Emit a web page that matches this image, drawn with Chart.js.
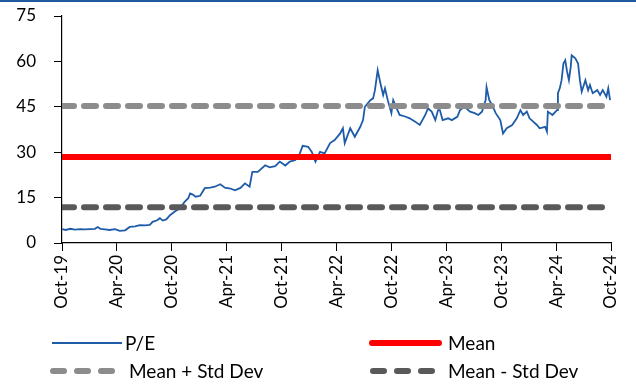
<!DOCTYPE html>
<html>
<head>
<meta charset="utf-8">
<script src="https://cdn.jsdelivr.net/npm/chart.js@4.4.1/dist/chart.umd.min.js"></script>
<style>
  html, body { margin: 0; padding: 0; background: #fff; }
  #wrap { position: relative; width: 636px; height: 385px; overflow: hidden; }
  #topbar { position: absolute; left: 0; top: 0; width: 636px; height: 2px; background: #1f5aa0; }
  canvas { position: absolute; left: 0; top: 0; }
  .leg { position: absolute; font-family: Lato, "Open Sans", sans-serif; font-size: 19px; color: #000; line-height: 20px; white-space: nowrap; }
  .sw { position: absolute; }
</style>
</head>
<body>
<div id="wrap">
  <canvas id="c" width="636" height="385"></canvas>
  <div id="topbar"></div>
  <svg class="sw" style="left:50px;top:333px" width="74" height="20"><line x1="2" y1="10" x2="72" y2="10" stroke="#1f5ca8" stroke-width="2"/></svg>
  <div class="leg" style="left:125px;top:333px">P/E</div>
  <svg class="sw" style="left:366px;top:333px" width="80" height="20"><line x1="6" y1="10" x2="73" y2="10" stroke="#ff0000" stroke-width="6" stroke-linecap="round"/></svg>
  <div class="leg" style="left:448px;top:333px">Mean</div>
  <svg class="sw" style="left:46px;top:361px" width="80" height="20"><line x1="7" y1="10" x2="66" y2="10" stroke="#8c8c8c" stroke-width="6" stroke-linecap="round" stroke-dasharray="11 13"/></svg>
  <div class="leg" style="left:129px;top:361px">Mean + Std Dev</div>
  <svg class="sw" style="left:366px;top:361px" width="80" height="20"><line x1="7" y1="10" x2="66" y2="10" stroke="#595959" stroke-width="6" stroke-linecap="round" stroke-dasharray="11 13"/></svg>
  <div class="leg" style="left:448px;top:361px">Mean - Std Dev</div>
</div>
<script>
// ---- data ----
const tickLabels = ["Oct-19","Apr-20","Oct-20","Apr-21","Oct-21","Apr-22","Oct-22","Apr-23","Oct-23","Apr-24","Oct-24"];
// months since Oct-2019
const months = [0.0,0.4,0.9,1.4,2.0,2.5,3.1,3.6,3.9,4.2,4.7,5.2,5.8,6.3,6.9,7.4,8.0,8.5,9.1,9.6,9.9,10.4,10.7,11.0,11.4,11.8,12.3,12.9,13.4,13.8,14.0,14.3,14.6,15.1,15.6,16.2,16.7,17.3,17.8,18.4,18.9,19.5,20.0,20.5,20.8,21.4,22.2,22.7,23.3,23.8,24.4,24.9,25.5,26.0,26.3,26.9,27.3,27.7,28.2,28.7,29.3,29.8,30.4,30.7,30.9,31.5,32.0,32.6,32.9,33.1,33.7,34.0,34.2,34.5,34.8,35.1,35.3,35.6,36.0,36.2,36.5,36.9,37.5,38.0,38.6,39.1,39.7,40.0,40.4,40.8,41.1,41.3,41.6,42.2,42.6,43.2,43.5,44.0,44.6,45.1,45.5,45.9,46.3,46.4,46.7,47.0,47.4,47.9,48.2,48.6,49.2,49.7,50.1,50.4,50.8,51.1,51.5,51.9,52.2,52.8,53.0,53.1,53.6,54.1,54.2,54.4,54.6,54.8,55.0,55.2,55.4,55.6,55.7,56.1,56.4,56.6,56.8,57.2,57.5,57.7,58.0,58.5,58.8,59.1,59.5,59.7,59.9];
const pe = [4.6,4.3,4.7,4.4,4.6,4.5,4.6,4.7,5.3,4.7,4.5,4.3,4.6,4.0,4.2,5.3,5.5,5.9,5.8,6.0,7.0,7.5,8.2,7.4,7.8,9.2,10.3,11.5,13.6,14.8,16.4,16.0,15.3,15.6,18.1,18.3,18.6,19.4,18.3,18.0,17.4,18.2,19.7,18.6,23.5,23.5,25.7,25.0,25.4,26.9,25.6,26.9,27.4,29.6,32.1,31.8,30.1,26.9,30.1,29.6,33.0,34.0,36.2,37.9,33.0,37.9,35.1,38.4,40.6,45.0,47.2,47.8,50.5,57.1,52.8,48.9,51.1,47.2,42.9,47.2,45.0,42.3,41.8,41.2,40.1,39.0,42.3,44.5,43.4,40.6,43.9,43.9,40.6,41.2,40.6,41.7,43.9,45.0,43.4,42.9,42.3,43.4,47.2,51.5,47.2,45.6,42.9,40.6,36.2,37.9,39.0,41.2,43.9,42.3,43.4,41.2,40.1,39.0,37.9,38.4,36.8,43.4,42.3,43.9,49.5,51.1,53.8,59.3,60.4,56.6,53.8,58.2,62.0,61.0,59.3,53.8,50.0,53.8,50.5,52.2,49.5,50.5,48.9,50.5,48.3,51.1,47.2];
const meanValue = 28.4;
const meanPlusStd = 45.3;
const meanMinusStd = 11.8;
const xRange = [0, 60];

const peData = months.map((m, i) => ({ x: m, y: pe[i] }));
const flat = v => xRange.map(x => ({ x: x, y: v }));

Chart.defaults.font.family = "Lato, 'Open Sans', sans-serif";
Chart.defaults.color = "#000";

// target plot-area box (pixels)
const box = { top: 16, bottom: 243, left: 62, right: 611 };
let xAxisH = 385 - box.bottom;
let yAxisW = box.left;
const pad = { top: box.top, right: 636 - box.right, left: 0, bottom: 0 };

const chart = new Chart(document.getElementById('c'), {
  type: 'line',
  data: {
    datasets: [
      { label: 'P/E', data: peData, borderColor: '#1f5ca8', borderWidth: 1.8, pointRadius: 0, tension: 0, order: 4 },
      { label: 'Mean', data: flat(meanValue), borderColor: '#ff0000', borderWidth: 6, pointRadius: 0, order: 3 },
      { label: 'Mean + Std Dev', data: flat(meanPlusStd), borderColor: '#8c8c8c', borderWidth: 6, borderDash: [12, 10], borderCapStyle: 'round', pointRadius: 0, order: 2 },
      { label: 'Mean - Std Dev', data: flat(meanMinusStd), borderColor: '#595959', borderWidth: 6, borderDash: [12, 10], borderCapStyle: 'round', pointRadius: 0, order: 1 }
    ]
  },
  options: {
    responsive: false,
    animation: false,
    events: [],
    layout: { padding: () => ({ top: pad.top, right: pad.right, left: pad.left, bottom: pad.bottom }) },
    plugins: { legend: { display: false }, tooltip: { enabled: false } },
    scales: {
      x: {
        type: 'linear', min: 0, max: 60,
        afterBuildTicks: s => { s.ticks = tickLabels.map((_, i) => ({ value: i * 6 })); },
        afterFit: s => { s.height = xAxisH; },
        ticks: { minRotation: 90, maxRotation: 90, autoSkip: false, padding: 4, font: { size: 17 }, callback: v => tickLabels[Math.round(v / 6)] },
        grid: { drawOnChartArea: false, drawTicks: true, tickLength: 8, color: '#000' },
        border: { display: true, color: '#000', width: 1.2 }
      },
      y: {
        min: 0, max: 75,
        afterBuildTicks: s => { s.ticks = [0,15,30,45,60,75].map(v => ({ value: v })); },
        afterFit: s => { s.width = yAxisW; s.paddingTop = 0; s.paddingBottom = 0; },
        ticks: { padding: 18, font: { size: 17 } },
        grid: { drawOnChartArea: false, drawTicks: true, tickLength: 8, color: '#000' },
        border: { display: true, color: '#000', width: 1.2 }
      }
    }
  }
});

// nudge layout so the axes' end points land on the target box
for (let i = 0; i < 3; i++) {
  const ys = chart.scales.y, xs = chart.scales.x;
  const t = ys.getPixelForValue(75), b = ys.getPixelForValue(0);
  const l = xs.getPixelForValue(0), r = xs.getPixelForValue(60);
  if (Math.abs(t - box.top) < 0.5 && Math.abs(b - box.bottom) < 0.5 && Math.abs(l - box.left) < 0.5 && Math.abs(r - box.right) < 0.5) break;
  pad.top += box.top - t;
  xAxisH += b - box.bottom;
  yAxisW += box.left - l;
  pad.right += r - box.right;
  chart.update();
}
</script>
</body>
</html>
